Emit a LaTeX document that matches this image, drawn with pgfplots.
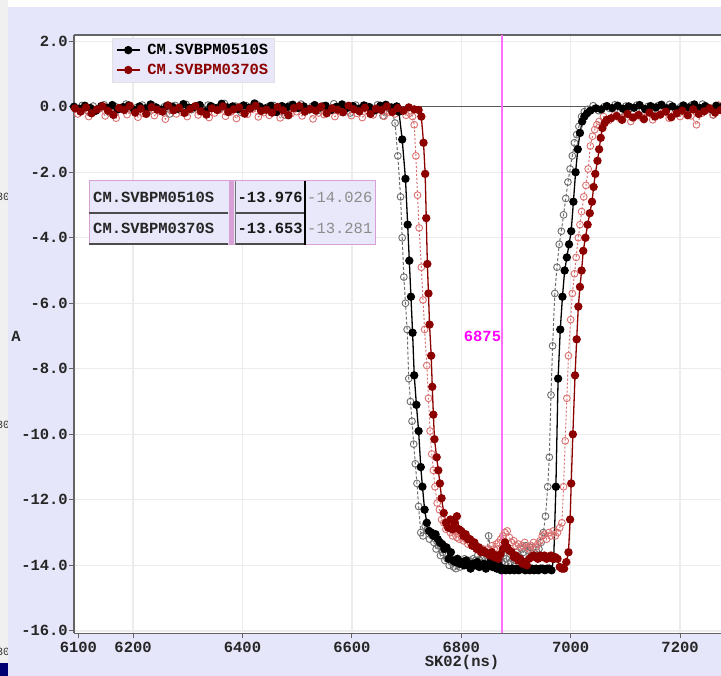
\documentclass[border=0pt]{standalone}
\usepackage{fontspec}
\setmainfont{Liberation Mono}
\usepackage{pgfplots}
\pgfplotsset{compat=1.18}
\definecolor{lav}{RGB}{230,230,250}
\definecolor{lavbox}{RGB}{232,232,250}
\definecolor{dkred}{RGB}{140,0,0}
\definecolor{ltred}{RGB}{218,112,112}
\definecolor{gry}{RGB}{110,110,110}
\definecolor{mag}{RGB}{255,110,255}
\definecolor{magtxt}{RGB}{255,0,255}
\definecolor{axgray}{RGB}{100,100,100}
\definecolor{gridgray}{RGB}{236,236,236}
\definecolor{pinkb}{RGB}{215,160,215}
\newcommand{\lf}{\fontsize{15.5}{18}\selectfont\bfseries}
\newcommand{\lfr}{\fontsize{15.5}{18}\selectfont}
\begin{document}
\begin{tikzpicture}
\useasboundingbox (0pt,0pt) rectangle (721pt,676pt);
\clip (0pt,0pt) rectangle (721pt,676pt);
\fill[white] (0pt,0pt) rectangle (721pt,676pt);
\fill[black!6] (0pt,0pt) rectangle (8pt,676pt);
\node[anchor=east, font=\fontsize{11}{12}\selectfont, text=black!80, inner sep=0] at (10pt,479pt) {30};
\node[anchor=east, font=\fontsize{11}{12}\selectfont, text=black!80, inner sep=0] at (10pt,251pt) {30};
\node[anchor=east, font=\fontsize{11}{12}\selectfont, text=black!80, inner sep=0] at (10pt,24pt) {30};
\fill[lav] (8pt,0pt) rectangle (721pt,669pt);
\fill[blue!45!black] (0pt,0pt) rectangle (8pt,13pt);
\begin{axis}[
  at={(74pt,42.5pt)}, anchor=south west,
  scale only axis, width=655.3pt, height=598.5pt,
  xmin=6092, xmax=7290, ymin=-16.08, ymax=2.19,
  axis background/.style={fill=white},
  axis x line*=box, axis y line*=left,
  axis line style={axgray, line width=1.5pt},
  xtick={6200,6400,6600,6800,7000,7200},
  xticklabels={6200,6400,6600,6800,7000,7200},
  extra x ticks={6100}, extra x tick labels={6100},
  extra x tick style={grid=none},
  ytick={2,0,-2,-4,-6,-8,-10,-12,-14,-16},
  yticklabels={2.0,0.0,-2.0,-4.0,-6.0,-8.0,-10.0,-12.0,-14.0,-16.0},
  xtick pos=left, ytick pos=left,
  tick align=outside, major tick length=5pt,
  tick style={axgray, line width=1pt},
  ticklabel style={font=\lf, text=black!85},
  yticklabel style={inner sep=1pt},
  grid=major, major grid style={gridgray, line width=1.3pt},
  legend cell align=left,
  legend image code/.code={\draw[mark repeat=2, mark phase=2] plot coordinates {(0cm,0cm) (0.4cm,0cm) (0.8cm,0cm)};},
  legend style={at={(0.058,0.995)}, anchor=north west, fill=lavbox, draw=black!12, font=\lf, inner xsep=4pt, inner ysep=4pt, row sep=4pt,
    /tikz/every odd column/.append style={column sep=5pt}},
]
\draw[black!65, line width=1.2pt] (axis cs:6092,0) -- (axis cs:7290,0);
% gray reference of CM.SVBPM0510S
\addplot[gry, line width=1pt, dash pattern=on 3pt off 2pt, mark=o, mark size=3.4pt, mark options={solid, line width=0.9pt}, forget plot] coordinates {
(6097,-0.05) (6107,0.04) (6117,-0.12) (6127,0.02) (6137,-0.07) (6147,0.06) (6157,-0.18) (6167,0.01) (6177,-0.03) (6187,0.08)
(6197,-0.10) (6207,-0.02) (6217,0.05) (6227,-0.15) (6237,0.03) (6247,-0.06) (6257,0.00) (6267,-0.22) (6277,0.04) (6287,-0.04)
(6297,0.07) (6307,-0.09) (6317,0.02) (6327,-0.13) (6337,0.05) (6347,-0.01) (6357,-0.08) (6367,0.10) (6377,-0.05) (6387,0.02)
(6397,-0.17) (6407,0.03) (6417,-0.03) (6427,0.06) (6437,-0.11) (6447,0.00) (6457,0.04) (6467,-0.07) (6477,-0.25) (6487,0.05)
(6497,-0.02) (6507,0.08) (6517,-0.06) (6527,0.01) (6537,-0.12) (6547,0.03) (6557,-0.04) (6567,0.09) (6577,-0.08) (6587,0.00)
(6597,-0.19) (6607,0.05) (6617,-0.03) (6627,0.02) (6637,-0.10) (6647,0.06) (6657,-0.28) (6667,-0.05)
(6673,-0.1) (6679,-0.5) (6684,-1.5) (6689,-2.75) (6692,-4.0) (6695,-5.2) (6698,-6.0) (6701,-6.8) (6704,-8.3) (6707,-9.0)
(6710,-9.6) (6713,-10.3) (6716,-10.9) (6719,-11.5) (6722,-12.2) (6726,-13.0) (6730,-13.1) (6734,-12.8) (6738,-12.9)
(6742,-13.2) (6746,-13.0) (6750,-13.3) (6754,-13.5) (6758,-13.4) (6762,-13.7) (6766,-13.6) (6770,-13.85) (6774,-13.8) (6778,-14.0)
(6782,-13.9) (6786,-14.05) (6790,-14.1) (6794,-13.95) (6798,-14.05) (6802,-13.9) (6806,-13.8) (6810,-13.95) (6814,-13.85) (6818,-13.9)
(6822,-13.8) (6826,-13.85) (6830,-13.7) (6834,-13.85) (6838,-13.8) (6842,-13.95) (6846,-13.7) (6850,-13.1) (6854,-13.6) (6858,-13.8)
(6862,-13.9) (6866,-13.75) (6870,-13.85) (6874,-13.9) (6878,-13.7) (6882,-13.8) (6886,-13.95) (6890,-13.9) (6894,-13.8) (6898,-13.85)
(6902,-13.6) (6906,-13.75) (6910,-13.5) (6914,-13.6) (6918,-13.4) (6922,-13.55) (6926,-13.45) (6930,-13.65) (6934,-13.7) (6938,-13.6)
(6942,-13.5) (6946,-13.3) (6950,-13.0)
(6954,-12.5) (6958,-11.6) (6961,-10.7) (6964,-8.8) (6967,-7.3) (6971,-5.7) (6975,-4.9) (6979,-4.2) (6983,-3.8) (6987,-3.3)
(6991,-2.8) (6995,-2.3) (6999,-1.9) (7003,-1.5) (7007,-1.1) (7011,-0.85) (7015,-0.6) (7020,-0.3) (7025,-0.15)
(7031,-0.08) (7041,0.03) (7051,-0.12) (7061,0.00) (7071,-0.05) (7081,0.06) (7091,-0.15) (7101,0.02) (7111,-0.04) (7121,0.05)
(7131,-0.09) (7141,0.01) (7151,-0.20) (7161,0.04) (7171,-0.02) (7181,0.07) (7191,-0.06) (7201,0.00) (7211,-0.11) (7221,0.05)
(7231,-0.03) (7241,0.08) (7251,-0.07) (7261,-0.25) (7271,0.02) (7281,0.06)
};
% light red reference of CM.SVBPM0370S
\addplot[ltred, line width=1pt, dash pattern=on 2pt off 2pt, mark=o, mark size=3.4pt, mark options={solid, line width=0.9pt}, forget plot] coordinates {
(6099,-0.22) (6109,-0.10) (6119,-0.30) (6129,-0.15) (6139,-0.05) (6149,-0.28) (6159,-0.18) (6169,-0.35) (6179,-0.08) (6189,-0.24)
(6199,-0.12) (6209,-0.32) (6219,-0.20) (6229,-0.06) (6239,-0.27) (6249,-0.14) (6259,-0.38) (6269,-0.10) (6279,-0.22) (6289,-0.17)
(6299,-0.30) (6309,-0.04) (6319,-0.25) (6329,-0.13) (6339,-0.33) (6349,-0.19) (6359,-0.09) (6369,-0.29) (6379,-0.16) (6389,-0.36)
(6399,-0.11) (6409,-0.23) (6419,-0.07) (6429,-0.31) (6439,-0.18) (6449,-0.26) (6459,-0.12) (6469,-0.34) (6479,-0.05) (6489,-0.21)
(6499,-0.15) (6509,-0.28) (6519,-0.09) (6529,-0.37) (6539,-0.19) (6549,-0.24) (6559,-0.11) (6569,-0.30) (6579,-0.16) (6589,-0.06)
(6599,-0.27) (6609,-0.20) (6619,-0.33) (6629,-0.13) (6639,-0.25) (6649,-0.08) (6659,-0.29) (6669,-0.17) (6679,-0.22) (6689,-0.12)
(6699,-0.26)
(6706,-0.2) (6711,-0.3) (6714,-0.55) (6717,-1.5) (6720,-2.7) (6723,-3.7) (6727,-4.9) (6730,-5.9) (6733,-6.8) (6737,-7.9)
(6740,-8.9) (6743,-9.9) (6746,-10.6) (6749,-11.1) (6752,-11.6) (6756,-12.1) (6760,-12.3) (6764,-12.6) (6768,-12.7) (6772,-12.9)
(6776,-12.85) (6780,-13.0) (6784,-13.1) (6788,-12.95) (6792,-13.15) (6796,-13.2) (6800,-13.1) (6804,-13.25) (6808,-13.2) (6812,-13.35)
(6816,-13.3) (6820,-13.4) (6824,-13.35) (6828,-13.5) (6832,-13.45) (6836,-13.55) (6840,-13.5) (6844,-13.6) (6848,-13.5) (6852,-13.55)
(6856,-13.4) (6860,-13.5) (6864,-13.35) (6868,-13.3) (6872,-13.2) (6876,-13.1) (6880,-13.0) (6884,-12.95) (6888,-13.15) (6892,-13.3)
(6896,-13.25) (6900,-13.4) (6904,-13.35) (6908,-13.45) (6912,-13.4) (6916,-13.3) (6920,-13.45) (6924,-13.5) (6928,-13.4) (6932,-13.3)
(6936,-13.45) (6940,-13.35) (6944,-13.25) (6948,-13.1) (6952,-13.05) (6956,-13.2) (6960,-13.0) (6964,-13.1) (6968,-12.95) (6972,-13.1)
(6976,-13.0) (6980,-12.85) (6984,-12.7)
(6987,-11.6) (6990,-10.2) (6993,-8.9) (6996,-7.6) (7000,-6.5) (7003,-5.7) (7007,-5.1) (7010,-4.6) (7014,-4.0) (7017,-3.6)
(7020,-3.2) (7024,-2.75) (7028,-2.4) (7032,-1.9) (7036,-1.2) (7040,-0.9) (7044,-0.7) (7048,-0.55) (7052,-0.45)
(7060,-0.30) (7070,-0.42) (7080,-0.25) (7090,-0.36) (7100,-0.20) (7110,-0.45) (7120,-0.28) (7130,-0.33) (7140,-0.18) (7150,-0.40)
(7160,-0.26) (7170,-0.15) (7180,-0.35) (7190,-0.22) (7200,-0.30) (7210,-0.12) (7220,-0.28) (7230,-0.55) (7240,-0.20) (7250,-0.10)
(7260,-0.25) (7270,0.05) (7280,-0.15)
};
% CM.SVBPM0510S
\addplot[black, line width=1.3pt, mark=*, mark size=3.5pt, mark options={solid}] coordinates {
(6092,0.00) (6102,-0.06) (6112,0.03) (6122,-0.04) (6132,-0.12) (6142,0.02) (6152,-0.03) (6162,0.05) (6172,-0.08) (6182,-0.01)
(6192,0.04) (6202,-0.10) (6212,0.01) (6222,-0.05) (6232,0.07) (6242,-0.02) (6252,-0.09) (6262,0.03) (6272,0.00) (6282,-0.06)
(6292,0.08) (6302,-0.03) (6312,-0.01) (6322,0.05) (6332,-0.14) (6342,0.02) (6352,-0.04) (6362,0.09) (6372,-0.02) (6382,0.01)
(6392,-0.07) (6402,0.04) (6412,-0.03) (6422,0.10) (6432,0.00) (6442,-0.05) (6452,0.03) (6462,-0.16) (6472,0.02) (6482,-0.01)
(6492,0.06) (6502,-0.04) (6512,0.01) (6522,-0.08) (6532,0.05) (6542,-0.02) (6552,0.03) (6562,-0.10) (6572,0.00) (6582,0.07)
(6592,-0.03) (6602,0.02) (6612,-0.06) (6622,0.04) (6632,-0.01) (6642,-0.11) (6652,0.03) (6662,0.06) (6672,-0.02) (6682,0.01)
(6686,-0.15) (6692,-1.0) (6698,-2.2) (6702,-3.6) (6705,-4.7) (6708,-5.8) (6711,-6.9) (6714,-8.2) (6718,-9.1) (6722,-9.9)
(6726,-11.0) (6729,-11.6) (6733,-12.3) (6737,-12.7) (6741,-12.95) (6745,-13.0)
(6749,-13.1) (6753,-13.05) (6757,-13.2) (6761,-13.3) (6765,-13.35) (6769,-13.5) (6773,-13.45) (6777,-13.8) (6781,-13.6) (6785,-13.85)
(6789,-13.9) (6793,-13.8) (6797,-13.95) (6801,-13.9) (6805,-14.0) (6809,-13.85) (6813,-14.0) (6817,-14.1) (6821,-13.95) (6825,-14.0)
(6829,-13.9) (6833,-14.05) (6837,-14.0) (6841,-13.95) (6845,-14.1) (6849,-14.0) (6853,-13.9) (6857,-14.05) (6861,-14.0) (6865,-14.1)
(6869,-14.0) (6873,-14.15) (6877,-14.1) (6881,-14.15) (6885,-14.1) (6889,-14.15) (6893,-14.1) (6897,-14.15) (6901,-14.1) (6905,-14.15)
(6909,-14.1) (6913,-14.1) (6917,-14.15) (6921,-14.1) (6925,-14.15) (6929,-14.1) (6933,-14.15) (6937,-14.1) (6941,-14.15) (6945,-14.1)
(6949,-14.1) (6953,-14.15) (6957,-14.1) (6961,-14.1) (6965,-14.15)
(6969,-13.8) (6973,-11.6) (6977,-8.3) (6981,-6.8) (6985,-5.8) (6989,-5.0) (6993,-4.6) (6997,-4.2) (7001,-3.8) (7005,-2.9)
(7009,-2.0) (7013,-1.3) (7017,-0.8) (7021,-0.45) (7025,-0.3) (7030,-0.2)
(7036,-0.12) (7046,-0.05) (7056,-0.08) (7066,0.02) (7076,-0.04) (7086,0.03) (7096,-0.06) (7106,0.01) (7116,-0.03) (7126,0.05)
(7136,-0.07) (7146,0.02) (7156,-0.02) (7166,0.06) (7176,-0.05) (7186,0.01) (7196,-0.09) (7206,0.04) (7216,-0.02) (7226,0.07)
(7236,-0.04) (7246,0.02) (7256,-0.06) (7266,0.03) (7276,-0.01) (7286,0.05)
};
\addlegendentry{\textcolor{black}{CM.SVBPM0510S}}
% CM.SVBPM0370S
\addplot[dkred, line width=1.3pt, mark=*, mark size=3.5pt, mark options={solid}] coordinates {
(6094,-0.05) (6104,-0.15) (6114,-0.02) (6124,-0.20) (6134,-0.08) (6144,0.02) (6154,-0.12) (6164,-0.25) (6174,-0.04) (6184,-0.10)
(6194,0.03) (6204,-0.18) (6214,-0.06) (6224,-0.22) (6234,-0.01) (6244,-0.09) (6254,-0.15) (6264,0.04) (6274,-0.11) (6284,-0.03)
(6294,-0.19) (6304,-0.07) (6314,0.02) (6324,-0.14) (6334,-0.24) (6344,-0.05) (6354,-0.10) (6364,0.01) (6374,-0.16) (6384,-0.08)
(6394,-0.02) (6404,-0.21) (6414,-0.06) (6424,0.03) (6434,-0.13) (6444,-0.09) (6454,-0.18) (6464,-0.01) (6474,-0.11) (6484,-0.26)
(6494,-0.04) (6504,0.02) (6514,-0.15) (6524,-0.07) (6534,-0.12) (6544,0.00) (6554,-0.20) (6564,-0.05) (6574,-0.09) (6584,-0.17)
(6594,0.03) (6604,-0.08) (6614,-0.14) (6624,-0.03) (6634,-0.22) (6644,-0.06) (6654,-0.10) (6664,0.01) (6674,-0.16) (6684,-0.04)
(6694,-0.12) (6704,-0.02) (6714,-0.08)
(6722,-0.1) (6727,-0.3) (6731,-1.1) (6734,-2.05) (6736,-3.4) (6738,-4.8) (6740,-5.7) (6742,-6.65) (6745,-7.6) (6747,-8.55)
(6749,-9.4) (6751,-10.15) (6755,-10.7) (6758,-11.1) (6761,-11.5) (6764,-11.95) (6768,-12.4) (6772,-12.7) (6776,-12.85) (6780,-12.6)
(6784,-12.9) (6788,-12.7) (6792,-12.5) (6796,-12.9) (6800,-12.95) (6804,-13.1) (6808,-13.05) (6812,-13.2) (6816,-13.2) (6820,-13.4)
(6824,-13.3) (6828,-13.5) (6832,-13.45) (6836,-13.6) (6840,-13.55) (6844,-13.6)
(6848,-13.65) (6852,-13.7) (6856,-13.6) (6860,-13.75) (6864,-13.7) (6868,-13.8) (6872,-13.65) (6876,-13.5) (6880,-13.3) (6884,-13.45)
(6888,-13.55) (6892,-13.6) (6896,-13.75) (6900,-13.7) (6904,-13.85) (6908,-13.8) (6912,-13.95) (6916,-13.9) (6920,-14.0) (6924,-13.8)
(6928,-13.75) (6932,-13.7) (6936,-13.75) (6940,-13.8) (6944,-13.7) (6948,-13.75) (6952,-13.7) (6956,-13.8) (6960,-13.75) (6964,-13.7)
(6968,-13.8) (6972,-13.75) (6976,-13.8) (6980,-14.05) (6984,-14.1) (6988,-14.1) (6992,-13.9) (6996,-13.6)
(6999,-12.6) (7001,-11.5) (7004,-10.0) (7008,-8.2) (7011,-7.1) (7014,-6.1) (7017,-5.5) (7020,-5.0) (7023,-4.4) (7027,-4.0)
(7031,-3.6) (7035,-3.25) (7039,-2.9) (7042,-2.45) (7045,-2.05) (7049,-1.65) (7052,-1.3) (7055,-0.95) (7058,-0.65) (7062,-0.5)
(7066,-0.4)
(7074,-0.35) (7084,-0.28) (7094,-0.40) (7104,-0.22) (7114,-0.33) (7124,-0.25) (7134,-0.38) (7144,-0.18) (7154,-0.30) (7164,-0.24)
(7174,-0.15) (7184,-0.32) (7194,-0.20) (7204,-0.12) (7214,-0.26) (7224,-0.08) (7234,-0.22) (7244,-0.14) (7254,-0.05) (7264,-0.18)
(7274,-0.10) (7284,0.02)
};
\addlegendentry{\textcolor{dkred}{CM.SVBPM0370S}}
\draw[mag, line width=2pt] (axis cs:6875,-16.08) -- (axis cs:6875,2.19);
\node[anchor=east, text=magtxt, font=\lf, inner sep=1pt] at (axis cs:6875,-7.0) {6875};
\end{axis}
\node[font=\lf, text=black!85] at (16pt,340pt) {A};
\node[font=\lf, text=black!85] at (462pt,13pt) {SK02(ns)};
% value read-out table
\fill[lavbox] (89pt,431pt) rectangle (375pt,495pt);
\draw[pinkb, line width=1pt] (89pt,431pt) rectangle (375pt,495pt);
\fill[pinkb] (229pt,431pt) rectangle (234pt,495pt);
\draw[black!70, line width=2pt] (89pt,463pt) -- (228pt,463pt);
\draw[black!70, line width=2pt] (89pt,432pt) -- (228pt,432pt);
\draw[black!70, line width=2pt] (235pt,463pt) -- (305pt,463pt);
\draw[black!70, line width=2pt] (235pt,432pt) -- (305pt,432pt);
\draw[black!55, line width=1pt] (235pt,431pt) -- (235pt,495pt);
\draw[black, line width=1.5pt] (305pt,431pt) -- (305pt,495pt);
\node[anchor=west, font=\lf, text=black!85, inner sep=0] at (93pt,479pt) {CM.SVBPM0510S};
\node[anchor=west, font=\lf, text=black!85, inner sep=0] at (93pt,448pt) {CM.SVBPM0370S};
\node[anchor=east, font=\lf, text=black!90, inner sep=0] at (303pt,479pt) {-13.976};
\node[anchor=east, font=\lf, text=black!90, inner sep=0] at (303pt,448pt) {-13.653};
\node[anchor=west, font=\lfr, text=black!45, inner sep=0] at (307pt,479pt) {-14.026};
\node[anchor=west, font=\lfr, text=black!45, inner sep=0] at (307pt,448pt) {-13.281};
\end{tikzpicture}
\end{document}
